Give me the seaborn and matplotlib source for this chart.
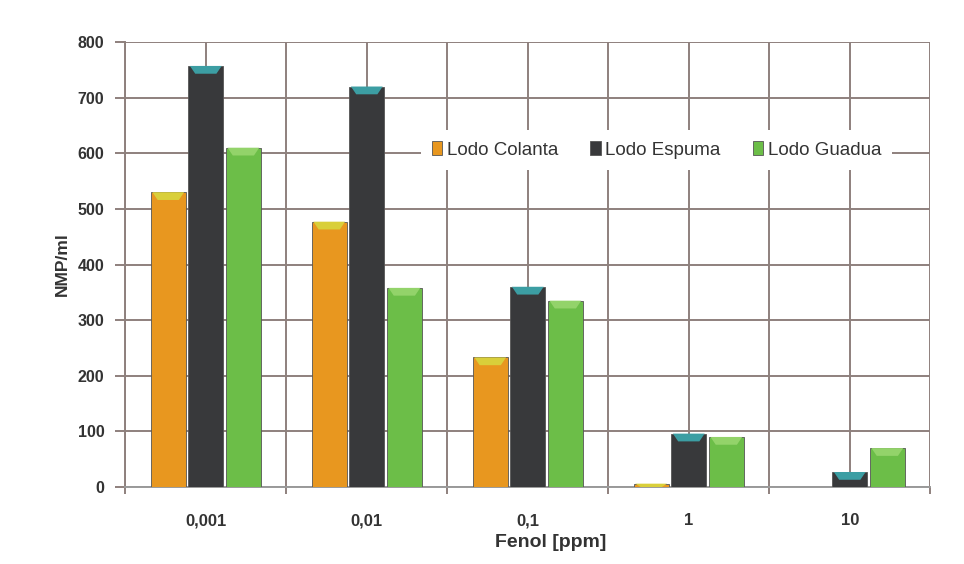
import numpy as np
import pandas as pd
import matplotlib
matplotlib.use("Agg")
import matplotlib.pyplot as plt
import seaborn as sns
from matplotlib.patches import Polygon

categories = ["0,001", "0,01", "0,1", "1", "10"]
series = ["Lodo Colanta", "Lodo Espuma", "Lodo Guadua"]
colanta = [530, 477, 233, 6, 0]
espuma = [757, 720, 360, 96, 27]
guadua = [610, 358, 335, 90, 70]

df = pd.DataFrame({
    "Fenol": categories * 3,
    "NMP": colanta + espuma + guadua,
    "Serie": [s for s in series for _ in categories],
})

sns.set_theme(style="white")
plt.rcParams["font.family"] = ["Liberation Sans", "DejaVu Sans"]

colors = ["#E8971F", "#38393B", "#6CBE48"]
cap_colors = ["#D9CF3A", "#3C9EA3", "#93D36A"]
grid_c = "#8E807D"

fig = plt.figure(figsize=(9.64, 5.64), dpi=100)
ax = fig.add_axes([0.130, 0.1365, 0.835, 0.789])

sns.barplot(data=df, x="Fenol", y="NMP", hue="Serie", order=categories,
            hue_order=series, palette=colors, saturation=1, width=0.70,
            gap=0.06, edgecolor="#555555", linewidth=0.6, ax=ax, zorder=3)

# caps on top of bars (derived from bar geometry)
for i, cont in enumerate(ax.containers):
    for p in cont:
        h = p.get_height()
        if h <= 0:
            continue
        x0 = p.get_x(); w = p.get_width()
        ch = min(14, h)
        poly = Polygon([[x0 + w*0.05, h], [x0 + w*0.95, h],
                        [x0 + w*0.80, h - ch], [x0 + w*0.20, h - ch]],
                       closed=True, facecolor=cap_colors[i], edgecolor="none", zorder=4)
        ax.add_patch(poly)

ax.set_xlim(-0.5, 4.5)
ax.set_ylim(0, 800)
ax.set_yticks(np.arange(0, 801, 100))
ax.set_xticks(range(5))
ax.set_xticklabels(categories)
ax.set_xticks(np.arange(-0.5, 4.6, 1.0), minor=True)

ax.grid(True, which="major", axis="both", color=grid_c, linewidth=1.4, zorder=0)
ax.grid(True, which="minor", axis="x", color=grid_c, linewidth=1.4, zorder=0)
ax.set_axisbelow(True)

for s in ["top", "right"]:
    ax.spines[s].set_visible(False)
ax.spines["left"].set_color(grid_c)
ax.spines["left"].set_linewidth(1.4)
ax.spines["bottom"].set_color("#9a9a9a")
ax.spines["bottom"].set_linewidth(1.4)

ax.tick_params(axis="y", which="major", left=True, length=7, width=1.4, color=grid_c,
               labelsize=11.5, labelcolor="#333333", pad=8)
ax.tick_params(axis="x", which="major", bottom=False, labelsize=12,
               labelcolor="#333333", pad=13)
ax.tick_params(axis="x", which="minor", bottom=True, length=5, width=1.4, color=grid_c)
for lbl in ax.get_yticklabels() + ax.get_xticklabels():
    lbl.set_fontweight("bold")

ax.set_xlabel("Fenol [ppm]", fontsize=14, fontweight="bold", color="#333333", labelpad=2)
ax.xaxis.set_label_coords(0.529, -0.105)
ax.set_ylabel("NMP/ml", fontsize=12.5, fontweight="bold", color="#333333", labelpad=6)

handles, labels = ax.get_legend_handles_labels()
leg = ax.legend(handles, labels, loc="center", bbox_to_anchor=(0.660, 0.757),
                ncol=3, fontsize=13.5, frameon=True, facecolor="white", edgecolor="none",
                framealpha=1, fancybox=False, handlelength=0.55, handleheight=0.75,
                handletextpad=0.25, columnspacing=1.7, borderpad=0.6,
                borderaxespad=0)
leg.set_zorder(5)
for t in leg.get_texts():
    t.set_color("#333333")

fig.savefig("out.png", dpi=100, facecolor="white")
